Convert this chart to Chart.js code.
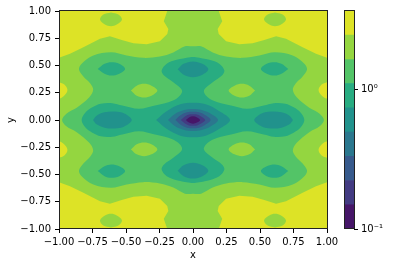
<!DOCTYPE html>
<html>
<head>
<meta charset="utf-8">
<script src="https://cdn.jsdelivr.net/npm/chart.js@4"></script>
<style>
  body { margin: 0; background: #fff; }
  canvas { position: absolute; left: 0; top: 0; }
</style>
</head>
<body>
<canvas id="plot" width="393" height="266"></canvas>
<canvas id="bar" width="393" height="266"></canvas>
<script>
// --- DATA --- //
const levelColors = ["#461668","#433b82","#375a8c","#2b778e","#21928c","#28ac81","#53c467","#94d640","#dde326"];
const levelBounds = [0.1,0.149,0.222,0.331,0.494,0.736,1.10,1.63,2.44,3.63];
const xTicks = [-1,-0.75,-0.5,-0.25,0,0.25,0.5,0.75,1];
const yTicks = [-1,-0.75,-0.5,-0.25,0,0.25,0.5,0.75,1];
const barTicks = [0.1,1];

// contour outlines in data units
const fullArea = [[-1,-1],[1,-1],[1,1],[-1,1],[-1,-1]];

const band7 = [
  [-0.192,1],[-0.218,0.907],[-0.184,0.836],[-0.192,0.79],[-0.247,0.723],[-0.346,0.695],[-0.445,0.705],[-0.532,0.735],[-0.62,0.769],[-0.694,0.745],[-0.818,0.668],[-0.918,0.607],[-1,0.57],
  [-1,-0.57],[-0.918,-0.607],[-0.818,-0.668],[-0.694,-0.745],[-0.62,-0.769],[-0.532,-0.735],[-0.445,-0.705],[-0.346,-0.695],[-0.247,-0.723],[-0.192,-0.79],[-0.184,-0.836],[-0.218,-0.907],[-0.192,-1],
  [0.192,-1],[0.218,-0.907],[0.184,-0.836],[0.192,-0.79],[0.247,-0.723],[0.346,-0.695],[0.445,-0.705],[0.532,-0.735],[0.62,-0.769],[0.694,-0.745],[0.818,-0.668],[0.918,-0.607],[1,-0.57],
  [1,0.57],[0.918,0.607],[0.818,0.668],[0.694,0.745],[0.62,0.769],[0.532,0.735],[0.445,0.705],[0.346,0.695],[0.247,0.723],[0.192,0.79],[0.184,0.836],[0.218,0.907],[0.192,1],[-0.192,1]
];
const edgeIslands8 = [
  [[-1,0.347],[-0.96,0.325],[-0.937,0.275],[-0.96,0.225],[-1,0.2],[-1,0.347]],
  [[-1,-0.347],[-0.96,-0.325],[-0.937,-0.275],[-0.96,-0.225],[-1,-0.2],[-1,-0.347]],
  [[1,0.347],[0.96,0.325],[0.937,0.275],[0.96,0.225],[1,0.2],[1,0.347]],
  [[1,-0.347],[0.96,-0.325],[0.937,-0.275],[0.96,-0.225],[1,-0.2],[1,-0.347]]
];
const cornerIslands7 = [
  [[-0.612,0.986],[-0.557,0.968],[-0.53,0.922],[-0.569,0.876],[-0.612,0.861],[-0.657,0.876],[-0.694,0.922],[-0.669,0.968],[-0.612,0.986]],
  [[0.612,0.986],[0.557,0.968],[0.53,0.922],[0.569,0.876],[0.612,0.861],[0.657,0.876],[0.694,0.922],[0.669,0.968],[0.612,0.986]],
  [[-0.612,-0.986],[-0.557,-0.968],[-0.53,-0.922],[-0.569,-0.876],[-0.612,-0.861],[-0.657,-0.876],[-0.694,-0.922],[-0.669,-0.968],[-0.612,-0.986]],
  [[0.612,-0.986],[0.557,-0.968],[0.53,-0.922],[0.569,-0.876],[0.612,-0.861],[0.657,-0.876],[0.694,-0.922],[0.669,-0.968],[0.612,-0.986]]
];
const band6 = [
  [0,0.676],[-0.06,0.676],[-0.147,0.62],[-0.247,0.583],[-0.371,0.57],[-0.495,0.592],[-0.612,0.622],[-0.744,0.592],[-0.831,0.516],[-0.851,0.463],[-0.818,0.399],[-0.765,0.332],[-0.745,0.277],[-0.774,0.209],[-0.868,0.112],[-0.945,0.058],[-0.977,0],
  [-0.945,-0.058],[-0.868,-0.112],[-0.774,-0.209],[-0.745,-0.277],[-0.765,-0.332],[-0.818,-0.399],[-0.851,-0.463],[-0.831,-0.516],[-0.744,-0.592],[-0.612,-0.622],[-0.495,-0.592],[-0.371,-0.57],[-0.247,-0.583],[-0.147,-0.62],[-0.06,-0.676],[0,-0.676],
  [0.06,-0.676],[0.147,-0.62],[0.247,-0.583],[0.371,-0.57],[0.495,-0.592],[0.612,-0.622],[0.744,-0.592],[0.831,-0.516],[0.851,-0.463],[0.818,-0.399],[0.765,-0.332],[0.745,-0.277],[0.774,-0.209],[0.868,-0.112],[0.945,-0.058],[0.977,0],
  [0.945,0.058],[0.868,0.112],[0.774,0.209],[0.745,0.277],[0.765,0.332],[0.818,0.399],[0.851,0.463],[0.831,0.516],[0.744,0.592],[0.612,0.622],[0.495,0.592],[0.371,0.57],[0.247,0.583],[0.147,0.62],[0.06,0.676],[0,0.676]
];
const innerIslands7 = [
  [[-0.463,0.27],[-0.42,0.315],[-0.365,0.332],[-0.31,0.315],[-0.266,0.27],[-0.31,0.222],[-0.365,0.206],[-0.42,0.222],[-0.463,0.27]],
  [[0.463,0.27],[0.42,0.315],[0.365,0.332],[0.31,0.315],[0.266,0.27],[0.31,0.222],[0.365,0.206],[0.42,0.222],[0.463,0.27]],
  [[-0.463,-0.27],[-0.42,-0.315],[-0.365,-0.332],[-0.31,-0.315],[-0.266,-0.27],[-0.31,-0.222],[-0.365,-0.206],[-0.42,-0.222],[-0.463,-0.27]],
  [[0.463,-0.27],[0.42,-0.315],[0.365,-0.332],[0.31,-0.315],[0.266,-0.27],[0.31,-0.222],[0.365,-0.206],[0.42,-0.222],[0.463,-0.27]]
];
const band5 = [
  [0,0.578],[-0.022,0.576],[-0.122,0.552],[-0.196,0.516],[-0.234,0.454],[-0.216,0.408],[-0.147,0.347],[-0.082,0.271],[-0.11,0.209],[-0.184,0.163],[-0.284,0.133],[-0.403,0.103],[-0.528,0.133],[-0.602,0.154],[-0.689,0.149],[-0.751,0.117],[-0.801,0.072],[-0.831,0],
  [-0.801,-0.072],[-0.751,-0.117],[-0.689,-0.149],[-0.602,-0.154],[-0.528,-0.133],[-0.403,-0.103],[-0.284,-0.133],[-0.184,-0.163],[-0.11,-0.209],[-0.082,-0.271],[-0.147,-0.347],[-0.216,-0.408],[-0.234,-0.454],[-0.196,-0.516],[-0.122,-0.552],[-0.022,-0.576],[0,-0.578],
  [0.022,-0.576],[0.122,-0.552],[0.196,-0.516],[0.234,-0.454],[0.216,-0.408],[0.147,-0.347],[0.082,-0.271],[0.11,-0.209],[0.184,-0.163],[0.284,-0.133],[0.403,-0.103],[0.528,-0.133],[0.602,-0.154],[0.689,-0.149],[0.751,-0.117],[0.801,-0.072],[0.831,0],
  [0.801,0.072],[0.751,0.117],[0.689,0.149],[0.602,0.154],[0.528,0.133],[0.403,0.103],[0.284,0.133],[0.184,0.163],[0.11,0.209],[0.082,0.271],[0.147,0.347],[0.216,0.408],[0.234,0.454],[0.196,0.516],[0.122,0.552],[0.022,0.576],[0,0.578]
];
const sideIslands5 = [
  [[-0.711,0.468],[-0.66,0.515],[-0.61,0.53],[-0.55,0.515],[-0.507,0.468],[-0.55,0.425],[-0.61,0.408],[-0.66,0.425],[-0.711,0.468]],
  [[0.711,0.468],[0.66,0.515],[0.61,0.53],[0.55,0.515],[0.507,0.468],[0.55,0.425],[0.61,0.408],[0.66,0.425],[0.711,0.468]],
  [[-0.711,-0.468],[-0.66,-0.515],[-0.61,-0.53],[-0.55,-0.515],[-0.507,-0.468],[-0.55,-0.425],[-0.61,-0.408],[-0.66,-0.425],[-0.711,-0.468]],
  [[0.711,-0.468],[0.66,-0.515],[0.61,-0.53],[0.55,-0.515],[0.507,-0.468],[0.55,-0.425],[0.61,-0.408],[0.66,-0.425],[0.711,-0.468]]
];
const blobs4 = [
  [[-0.746,0],[-0.72,0.04],[-0.66,0.07],[-0.6,0.078],[-0.53,0.068],[-0.48,0.035],[-0.457,0],[-0.48,-0.035],[-0.53,-0.068],[-0.6,-0.078],[-0.66,-0.07],[-0.72,-0.04],[-0.746,0]],
  [[0.746,0],[0.72,0.04],[0.66,0.07],[0.6,0.078],[0.53,0.068],[0.48,0.035],[0.457,0],[0.48,-0.035],[0.53,-0.068],[0.6,-0.078],[0.66,-0.07],[0.72,-0.04],[0.746,0]],
  [[-0.114,0.465],[-0.07,0.515],[0,0.537],[0.07,0.515],[0.114,0.465],[0.07,0.415],[0,0.393],[-0.07,0.415],[-0.114,0.465]],
  [[-0.114,-0.465],[-0.07,-0.515],[0,-0.537],[0.07,-0.515],[0.114,-0.465],[0.07,-0.415],[0,-0.393],[-0.07,-0.415],[-0.114,-0.465]],
  [[-0.276,0],[-0.194,0.083],[-0.095,0.144],[0,0.159],[0.095,0.144],[0.194,0.083],[0.276,0],[0.194,-0.083],[0.095,-0.144],[0,-0.159],[-0.095,-0.144],[-0.194,-0.083],[-0.276,0]]
];
const core3 = [[-0.187,0],[-0.13,0.06],[-0.065,0.092],[0,0.101],[0.065,0.092],[0.13,0.06],[0.187,0],[0.13,-0.06],[0.065,-0.092],[0,-0.101],[-0.065,-0.092],[-0.13,-0.06],[-0.187,0]];
const core2 = [[-0.131,0],[-0.09,0.045],[-0.045,0.07],[0,0.076],[0.045,0.07],[0.09,0.045],[0.131,0],[0.09,-0.045],[0.045,-0.07],[0,-0.076],[-0.045,-0.07],[-0.09,-0.045],[-0.131,0]];
const core1 = [[-0.091,0],[-0.06,0.033],[-0.03,0.05],[0,0.053],[0.03,0.05],[0.06,0.033],[0.091,0],[0.06,-0.033],[0.03,-0.05],[0,-0.053],[-0.03,-0.05],[-0.06,-0.033],[-0.091,0]];
const core0 = [[-0.053,0],[-0.03,0.024],[0,0.034],[0.03,0.024],[0.053,0],[0.03,-0.024],[0,-0.034],[-0.03,-0.024],[-0.053,0]];

// painted back to front
const regions = [
  [fullArea,8],[band7,7],
  ...edgeIslands8.map(p=>[p,8]),
  ...cornerIslands7.map(p=>[p,7]),
  [band6,6],
  ...innerIslands7.map(p=>[p,7]),
  [band5,5],
  ...sideIslands5.map(p=>[p,5]),
  ...blobs4.map(p=>[p,4]),
  [core3,3],[core2,2],[core1,1],[core0,0]
];

// --- CHARTS --- //
const FONT = {family:"'DejaVu Sans'",size:10};
const INK = "#000";

function fixedTicks(list){
  return s=>{ s.ticks = list.map(v=>({value:v})); };
}
const frame = {
  id:"frame",
  afterDatasetsDraw(chart){
    const a = chart.chartArea, c = chart.ctx;
    c.save();
    c.strokeStyle = "#222";
    c.lineWidth = 1;
    c.strokeRect(a.left+0.5,a.top-0.5,a.right-a.left,a.bottom-a.top);
    c.restore();
  }
};
const fmt = v=>(v<0?"\u2212":"")+Math.abs(v).toFixed(2);

new Chart(document.getElementById("plot"),{
  type:"scatter",
  data:{datasets:regions.map((r,i)=>({
    data:r[0],
    showLine:true,
    pointRadius:0,
    borderWidth:0,
    tension:i<2?0:0.35,
    fill:"shape",
    backgroundColor:levelColors[r[1]],
    order:regions.length-i
  }))},
  options:{
    responsive:false,
    animation:false,
    events:[],
    layout:{padding:{left:0,right:66,top:11,bottom:0}},
    plugins:{legend:{display:false},tooltip:{enabled:false}},
    scales:{
      x:{
        type:"linear",min:-1,max:1,
        afterBuildTicks:fixedTicks(xTicks),
        afterFit:s=>{s.height=37;},
        title:{display:true,text:"x",font:FONT,color:INK,padding:{top:2,bottom:5}},
        border:{display:false},
        grid:{drawOnChartArea:false,tickLength:4,tickColor:INK},
        ticks:{font:FONT,color:INK,padding:3,maxRotation:0,autoSkip:false,callback:fmt}
      },
      y:{
        type:"linear",min:-1,max:1,
        afterBuildTicks:fixedTicks(yTicks),
        afterFit:s=>{s.width=59;},
        title:{display:true,text:"y",font:FONT,color:INK,padding:{top:5,bottom:0}},
        border:{display:false},
        grid:{drawOnChartArea:false,tickLength:4,tickColor:INK},
        ticks:{font:FONT,color:INK,padding:4,autoSkip:false,callback:fmt}
      }
    }
  },
  plugins:[frame]
});

new Chart(document.getElementById("bar"),{
  type:"bar",
  data:{
    labels:[""],
    datasets:levelColors.map((c,i)=>({
      data:[[levelBounds[i],levelBounds[i+1]]],
      backgroundColor:c,
      borderWidth:0,
      barPercentage:1,
      categoryPercentage:1,
      grouped:false
    }))
  },
  options:{
    responsive:false,
    animation:false,
    events:[],
    layout:{padding:{left:344,right:0,top:11,bottom:37}},
    plugins:{legend:{display:false},tooltip:{enabled:false}},
    scales:{
      x:{display:false},
      y:{
        type:"logarithmic",position:"right",min:levelBounds[0],max:levelBounds[9],
        afterBuildTicks:fixedTicks(barTicks),
        afterFit:s=>{s.width=39;},
        border:{display:false},
        grid:{drawOnChartArea:false,tickLength:4,tickColor:INK},
        ticks:{font:FONT,color:INK,padding:3,autoSkip:false,callback:v=>v===1?"10\u2070":"10\u207B\u00B9"}
      }
    }
  },
  plugins:[frame]
});
</script>
</body>
</html>
